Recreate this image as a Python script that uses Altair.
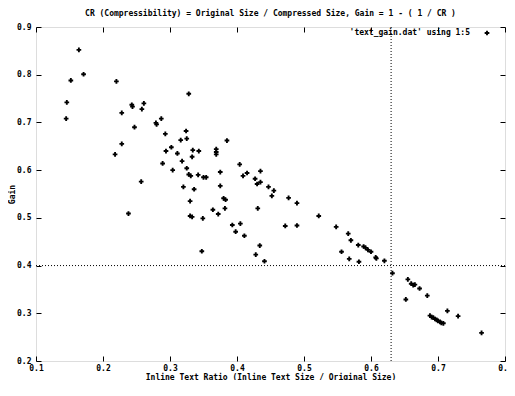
import altair as alt
import pandas as pd

x_ratio = [0.164, 0.152, 0.171, 0.146, 0.145, 0.220, 0.228, 0.243, 0.244, 0.261,
           0.258, 0.247, 0.228, 0.218, 0.257, 0.328, 0.279, 0.280, 0.287, 0.293,
           0.324, 0.325, 0.316, 0.294, 0.302, 0.311, 0.334, 0.343, 0.333, 0.289,
           0.304, 0.318, 0.325, 0.369, 0.369, 0.369, 0.385, 0.328, 0.331, 0.342,
           0.350, 0.354, 0.375, 0.404, 0.409, 0.415, 0.427, 0.435, 0.435, 0.430,
           0.447, 0.455, 0.452, 0.320, 0.336, 0.375, 0.380, 0.383, 0.330, 0.364,
           0.382, 0.431, 0.238, 0.330, 0.333, 0.349, 0.372, 0.393, 0.398, 0.405,
           0.411, 0.434, 0.428, 0.441, 0.3475, 0.472, 0.4895, 0.4895, 0.477, 0.522,
           0.548, 0.556, 0.566, 0.570, 0.5675, 0.581, 0.589, 0.592, 0.5955, 0.600,
           0.582, 0.607, 0.608, 0.620, 0.632, 0.655, 0.652, 0.660, 0.663, 0.6655,
           0.6725, 0.684, 0.688, 0.6905, 0.693, 0.6955, 0.698, 0.700, 0.703, 0.705,
           0.708, 0.714, 0.730, 0.765]
gain = [0.852, 0.788, 0.801, 0.742, 0.708, 0.786, 0.720, 0.737, 0.733, 0.740,
        0.728, 0.690, 0.655, 0.633, 0.576, 0.760, 0.699, 0.696, 0.708, 0.676,
        0.682, 0.666, 0.663, 0.640, 0.648, 0.635, 0.642, 0.640, 0.628, 0.614,
        0.600, 0.619, 0.604, 0.644, 0.638, 0.633, 0.662, 0.591, 0.588, 0.590,
        0.585, 0.585, 0.596, 0.612, 0.588, 0.594, 0.582, 0.598, 0.575, 0.571,
        0.565, 0.557, 0.546, 0.565, 0.560, 0.567, 0.541, 0.538, 0.535, 0.517,
        0.520, 0.520, 0.509, 0.504, 0.502, 0.499, 0.508, 0.485, 0.471, 0.488,
        0.4625, 0.442, 0.423, 0.409, 0.430, 0.483, 0.531, 0.484, 0.542, 0.504,
        0.481, 0.429, 0.467, 0.453, 0.414, 0.443, 0.440, 0.437, 0.433, 0.429,
        0.408, 0.417, 0.415, 0.410, 0.384, 0.371, 0.329, 0.362, 0.359, 0.360,
        0.352, 0.337, 0.295, 0.292, 0.291, 0.288, 0.286, 0.284, 0.282, 0.280,
        0.279, 0.305, 0.294, 0.259]

x_ticks = [0.1, 0.2, 0.3, 0.4, 0.5, 0.6, 0.7, 0.8]
y_ticks = [0.2, 0.3, 0.4, 0.5, 0.6, 0.7, 0.8, 0.9]
gain_threshold = [0.4]
ratio_threshold = [0.63]
title_text = "CR (Compressibility) = Original Size / Compressed Size,  Gain = 1 - ( 1 / CR )"
x_title = "Inline Text Ratio (Inline Text Size / Original Size)"
y_title = "Gain"
legend_label = "'text_gain.dat' using 1:5"

FONT = "DejaVu Sans Mono"
df = pd.DataFrame({"ratio": x_ratio, "gain": gain})

xs = alt.Scale(domain=[0.1, 0.8], nice=False, zero=False)
ys = alt.Scale(domain=[0.2, 0.9], nice=False, zero=False)

common_axis = dict(domain=False, grid=False, tickSize=5, offset=-5, tickColor="black",
                   labelFont=FONT, labelFontSize=8, labelFontWeight="bold",
                   labelColor="black", labelFlush=False, labelOverlap=False,
                   titleFont=FONT, titleFontSize=8, titleFontWeight="bold",
                   titleColor="black", format=".1f")

points = alt.Chart(df).mark_point(shape="cross", filled=True, color="black",
                                  size=22, opacity=1).encode(
    x=alt.X("ratio:Q", scale=xs,
            axis=alt.Axis(values=x_ticks, title=x_title, labelPadding=3,
                          titlePadding=1, **common_axis)),
    y=alt.Y("gain:Q", scale=ys,
            axis=alt.Axis(values=y_ticks, title=y_title, labelPadding=5,
                          titlePadding=0, **common_axis)),
)

mirror_axis = dict(domain=False, grid=False, tickSize=5, offset=-5, tickColor="black",
                   labels=False, title=None)
mirror = alt.Chart(df).mark_point(opacity=0).encode(
    x=alt.X("ratio:Q", scale=xs, axis=alt.Axis(orient="top", values=x_ticks, **mirror_axis)),
    y=alt.Y("gain:Q", scale=ys, axis=alt.Axis(orient="right", values=y_ticks, **mirror_axis)),
)

hline = alt.Chart(pd.DataFrame({"g": gain_threshold})).mark_rule(
    color="black", strokeDash=[1, 2], strokeWidth=1).encode(
    y=alt.Y("g:Q", scale=ys, axis=None))
vline = alt.Chart(pd.DataFrame({"r": ratio_threshold})).mark_rule(
    color="black", strokeDash=[1, 2], strokeWidth=1).encode(
    x=alt.X("r:Q", scale=xs, axis=None))

legend_text = alt.Chart(pd.DataFrame({"t": [legend_label]})).mark_text(
    align="right", baseline="middle", font=FONT, fontSize=8, fontWeight="bold",
    color="black").encode(text="t:N", x=alt.value(434), y=alt.value(6))
legend_key = alt.Chart(pd.DataFrame({"t": [legend_label]})).mark_point(
    shape="cross", filled=True, color="black", size=22, opacity=1).encode(
    x=alt.value(451), y=alt.value(6))

chart = alt.layer(points, mirror, hline, vline, legend_text, legend_key).resolve_axis(
    x="independent", y="independent"
).properties(
    width=469, height=334,
    autosize=alt.AutoSizeParams(type="none"),
    padding={"left": 28, "top": 19, "right": 2, "bottom": 19},
    title=alt.TitleParams(title_text, font=FONT, fontSize=8, fontWeight="bold",
                          color="black", offset=5, anchor="middle"),
).configure_view(stroke="black", strokeWidth=1).configure(background="white")

chart.save("out.html", embed_options={"renderer": "svg", "actions": False})
